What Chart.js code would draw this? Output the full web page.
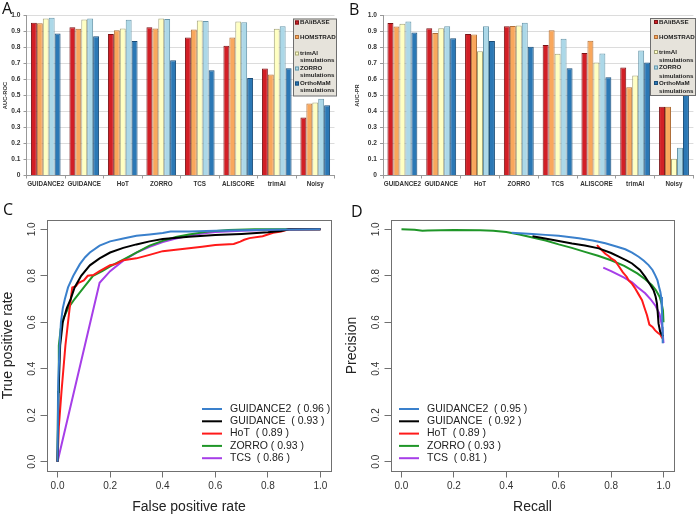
<!DOCTYPE html>
<html>
<head>
<meta charset="utf-8">
<script src="https://cdn.jsdelivr.net/npm/chart.js@4.4.1/dist/chart.umd.min.js"></script>
<style>
  html, body { margin: 0; padding: 0; background: #fff; }
  #fig { position: relative; width: 696px; height: 516px; overflow: hidden; background: #fff; }
  canvas { position: absolute; }
  .tag { position: absolute; font: 16px 'Open Sans', 'Liberation Sans', sans-serif; color: #111; line-height: 16px; }
</style>
</head>
<body>
<div id="fig">
  <canvas id="chartA" width="348" height="190" style="left:0;top:0"></canvas>
  <canvas id="chartB" width="348" height="190" style="left:348px;top:0"></canvas>
  <canvas id="chartC" width="348" height="321" style="left:0;top:195px"></canvas>
  <canvas id="chartD" width="352" height="321" style="left:344px;top:195px"></canvas>
  <div class="tag" style="left:2px;top:0px">A</div>
  <div class="tag" style="left:349px;top:1px">B</div>
  <div class="tag" style="left:3px;top:201px">C</div>
  <div class="tag" style="left:351px;top:203px">D</div>
</div>
<script>
// ---- bar panels (A: AUC-ROC, B: AUC-PR) ----
const methods = ['GUIDANCE2', 'GUIDANCE', 'HoT', 'ZORRO', 'TCS', 'ALISCORE', 'trimAl', 'Noisy'];
const benchNames = ['BAliBASE', 'HOMSTRAD', 'trimAl\nsimulations', 'ZORRO\nsimulations', 'OrthoMaM\nsimulations'];

const rocBalibase = [0.955, 0.926, 0.884, 0.926, 0.863, 0.811, 0.668, 0.362];
const rocHomstrad = [0.951, 0.917, 0.908, 0.918, 0.913, 0.863, 0.631, 0.450];
const rocTrimalSim = [0.981, 0.975, 0.918, 0.981, 0.968, 0.963, 0.917, 0.456];
const rocZorroSim = [0.986, 0.981, 0.974, 0.978, 0.965, 0.958, 0.933, 0.479];
const rocOrthomamSim = [0.888, 0.870, 0.840, 0.721, 0.658, 0.610, 0.670, 0.439];

const prBalibase = [0.953, 0.921, 0.885, 0.933, 0.816, 0.766, 0.675, 0.429];
const prHomstrad = [0.932, 0.890, 0.881, 0.934, 0.908, 0.842, 0.551, 0.429];
const prTrimalSim = [0.948, 0.921, 0.776, 0.938, 0.761, 0.706, 0.625, 0.105];
const prZorroSim = [0.962, 0.933, 0.933, 0.955, 0.854, 0.763, 0.781, 0.173];
const prOrthomamSim = [0.894, 0.858, 0.841, 0.805, 0.671, 0.614, 0.707, 0.520];

// ---- curve panels (C: ROC, D: precision-recall), points as [x, y] ----
const curveNames = ['GUIDANCE2  ( 0.96 )', 'GUIDANCE  ( 0.93 )', 'HoT  ( 0.89 )', 'ZORRO ( 0.93 )', 'TCS  ( 0.86 )'];
const prCurveNames = ['GUIDANCE2  ( 0.95 )', 'GUIDANCE  ( 0.92 )', 'HoT  ( 0.89 )', 'ZORRO ( 0.93 )', 'TCS  ( 0.81 )'];

const rocGuidance2 = [[0,0],[0.003,0.35],[0.008,0.5],[0.013,0.6],[0.02,0.66],[0.028,0.7],[0.04,0.75],[0.06,0.8],[0.085,0.85],[0.105,0.88],[0.123,0.9],[0.16,0.93],[0.2,0.948],[0.25,0.96],[0.3,0.972],[0.35,0.978],[0.4,0.984],[0.43,0.99],[0.5,0.991],[0.6,0.994],[0.7,0.996],[0.8,0.998],[0.9,0.999],[1,1]];
const rocGuidance = [[0,0],[0.004,0.3],[0.01,0.5],[0.02,0.6],[0.035,0.66],[0.05,0.7],[0.065,0.75],[0.09,0.8],[0.123,0.845],[0.16,0.875],[0.2,0.9],[0.25,0.92],[0.3,0.935],[0.35,0.948],[0.4,0.958],[0.5,0.968],[0.6,0.975],[0.7,0.98],[0.8,0.987],[0.85,0.993],[0.88,1],[1,1]];
const rocHot = [[0,0],[0.005,0.15],[0.015,0.3],[0.03,0.5],[0.045,0.65],[0.056,0.75],[0.07,0.755],[0.08,0.77],[0.1,0.78],[0.115,0.8],[0.136,0.803],[0.16,0.82],[0.2,0.845],[0.22,0.85],[0.25,0.867],[0.3,0.875],[0.35,0.89],[0.4,0.906],[0.45,0.912],[0.5,0.918],[0.55,0.925],[0.6,0.932],[0.67,0.937],[0.695,0.947],[0.71,0.955],[0.73,0.962],[0.78,0.97],[0.82,0.985],[0.85,0.99],[0.88,1],[1,1]];
const rocZorro = [[0,0],[0.002,0.3],[0.005,0.5],[0.012,0.57],[0.02,0.61],[0.04,0.66],[0.065,0.7],[0.1,0.75],[0.135,0.8],[0.17,0.82],[0.2,0.84],[0.25,0.87],[0.3,0.9],[0.35,0.93],[0.4,0.95],[0.45,0.967],[0.5,0.978],[0.57,0.99],[0.65,0.997],[0.75,1],[1,1]];
const rocTcs = [[0,0],[0.16,0.77],[0.2,0.82],[0.25,0.865],[0.3,0.9],[0.35,0.925],[0.4,0.945],[0.45,0.96],[0.5,0.972],[0.55,0.982],[0.6,0.988],[0.7,0.994],[0.8,0.997],[1,1]];

const prGuidance2 = [[0.42,0.985],[0.5,0.98],[0.55,0.976],[0.6,0.972],[0.677,0.961],[0.73,0.952],[0.778,0.94],[0.82,0.926],[0.854,0.914],[0.88,0.9],[0.905,0.882],[0.925,0.865],[0.943,0.846],[0.958,0.825],[0.968,0.803],[0.977,0.78],[0.983,0.752],[0.988,0.73],[0.991,0.709],[0.994,0.65],[0.996,0.58],[0.997,0.51]];
const prGuidance = [[0.5,0.97],[0.548,0.96],[0.6,0.95],[0.651,0.939],[0.7,0.93],[0.753,0.918],[0.8,0.898],[0.829,0.882],[0.86,0.865],[0.88,0.853],[0.91,0.825],[0.93,0.795],[0.95,0.76],[0.962,0.738],[0.97,0.71],[0.975,0.68],[0.978,0.64],[0.981,0.594],[0.987,0.56],[0.994,0.545],[1,0.54]];
const prHot = [[0.746,0.932],[0.76,0.915],[0.778,0.895],[0.79,0.885],[0.8,0.875],[0.815,0.865],[0.83,0.84],[0.845,0.815],[0.86,0.795],[0.867,0.78],[0.88,0.765],[0.892,0.745],[0.905,0.72],[0.918,0.695],[0.928,0.66],[0.937,0.63],[0.946,0.59],[0.958,0.58],[0.968,0.565],[0.978,0.555],[0.987,0.548],[0.996,0.53]];
const prZorro = [[0,1],[0.05,0.998],[0.08,0.994],[0.1,0.995],[0.2,0.997],[0.3,0.996],[0.35,0.994],[0.4,0.988],[0.45,0.978],[0.5,0.965],[0.55,0.952],[0.6,0.935],[0.65,0.92],[0.7,0.903],[0.75,0.886],[0.8,0.867],[0.85,0.843],[0.9,0.81],[0.93,0.785],[0.955,0.76],[0.97,0.74],[0.985,0.71],[0.993,0.68],[0.998,0.65],[1,0.6]];
const prTcs = [[0.77,0.835],[0.8,0.82],[0.85,0.792],[0.88,0.772],[0.9,0.752],[0.93,0.725],[0.95,0.7],[0.97,0.67],[0.985,0.635],[0.995,0.58],[1,0.51]];

const unitTicks = [0, 0.2, 0.4, 0.6, 0.8, 1.0];

const benchFill = ['#d21f26', '#f9a75c', '#ffffc2', '#acd8e8', '#2b78b5'];
const benchEdge = ['#7a1316', '#b0703a', '#a3a37a', '#6897aa', '#1a4d78'];
const curveColors = ['#3a80cc', '#000000', '#ff1a1a', '#1f9628', '#a63ee8'];

const barFont = "'Liberation Sans', Arial, sans-serif";
const sans = "'Liberation Sans', Arial, sans-serif";

// legend box of the bar panels
const benchLegend = {
  id: 'benchLegend',
  afterDatasetsDraw(chart, args, o) {
    const ctx = chart.ctx;
    ctx.save();
    ctx.fillStyle = '#e6e3db';
    ctx.fillRect(o.x, o.y, o.w, o.h);
    ctx.strokeStyle = '#6e6e6e';
    ctx.lineWidth = 1;
    ctx.strokeRect(o.x + 0.5, o.y + 0.5, o.w, o.h);
    ctx.font = 'bold 6.2px ' + barFont;
    ctx.textBaseline = 'middle';
    chart.data.datasets.forEach((ds, i) => {
      const y = o.y + o.rows[i];
      ctx.fillStyle = ds.backgroundColor;
      ctx.fillRect(o.x + o.markX, y - 2, 4, 4);
      ctx.strokeStyle = ds.borderColor;
      ctx.strokeRect(o.x + o.markX + 0.5, y - 1.5, 3, 3);
      ctx.fillStyle = '#222';
      ds.label.split('\n').forEach((t, j) => ctx.fillText(t, o.x + o.textX, y + j * o.lineGap));
    });
    ctx.restore();
  }
};

// R style frame and legend for the curve panels
const frameBox = {
  id: 'frameBox',
  afterDraw(chart) {
    const {ctx, chartArea: a} = chart;
    ctx.save();
    ctx.strokeStyle = '#707070';
    ctx.lineWidth = 1;
    ctx.strokeRect(Math.round(a.left) + 0.5, Math.round(a.top) + 0.5, Math.round(a.right - a.left), Math.round(a.bottom - a.top));
    ctx.restore();
  }
};
const curveLegend = {
  id: 'curveLegend',
  afterDatasetsDraw(chart, args, o) {
    const {ctx, chartArea: a} = chart;
    ctx.save();
    ctx.font = '10.5px ' + sans;
    ctx.textBaseline = 'middle';
    chart.data.datasets.forEach((ds, i) => {
      const y = a.bottom + o.top + i * o.rowHeight;
      const x0 = a.left + o.left;
      ctx.strokeStyle = ds.borderColor;
      ctx.lineWidth = 2;
      ctx.beginPath();
      ctx.moveTo(x0, y);
      ctx.lineTo(x0 + 20, y);
      ctx.stroke();
      ctx.fillStyle = '#222';
      ctx.fillText(ds.label, x0 + 28, y);
    });
    ctx.restore();
  }
};

function barChart(id, yTitle, series, axisWidth, padRight, titlePad, legendOpts) {
  return new Chart(document.getElementById(id), {
    type: 'bar',
    data: {
      labels: methods,
      datasets: series.map((vals, i) => ({
        label: benchNames[i],
        data: vals,
        backgroundColor: benchFill[i],
        borderColor: benchEdge[i],
        borderWidth: 1,
        borderSkipped: 'bottom',
        categoryPercentage: 0.77,
        barPercentage: 1.0
      }))
    },
    options: {
      responsive: false,
      animation: false,
      devicePixelRatio: 1,
      layout: { padding: { left: 0, top: 15.5, right: padRight, bottom: 0 } },
      plugins: { legend: { display: false }, tooltip: { enabled: false }, benchLegend: legendOpts },
      scales: {
        x: {
          ticks: { font: { family: barFont, size: 6.3, weight: 'bold' }, color: '#333', padding: 1.5, maxRotation: 0, autoSkip: false },
          grid: { drawOnChartArea: false, offset: true, tickLength: 3, color: '#999' },
          border: { color: '#999' },
          afterFit: s => { s.height = 14.5; }
        },
        y: {
          min: 0, max: 1,
          ticks: { stepSize: 0.1, font: { family: barFont, size: 6.6, weight: 'bold' }, color: '#333', padding: 3 },
          grid: { color: '#dcdcdc', tickLength: 3, tickColor: '#999' },
          border: { color: '#999' },
          title: { display: true, text: yTitle, font: { family: barFont, size: 5.8, weight: 'bold' }, color: '#333', padding: { top: titlePad, bottom: 0 } },
          afterFit: s => { s.width = axisWidth; }
        }
      }
    },
    plugins: [benchLegend]
  });
}

barChart('chartA', 'AUC-ROC', [rocBalibase, rocHomstrad, rocTrimalSim, rocZorroSim, rocOrthomamSim], 26.5, 13.5, 1.5,
  { x: 293, y: 18.5, w: 43, h: 77, markX: 2, textX: 7, rows: [4, 18.5, 35, 50, 65], lineGap: 7 });
barChart('chartB', 'AUC-PR', [prBalibase, prHomstrad, prTrimalSim, prZorroSim, prOrthomamSim], 35, 2.6, 6,
  { x: 302, y: 18, w: 45, h: 77, markX: 4, textX: 9, rows: [4, 19, 34, 49.5, 65], lineGap: 8.5 });

function unitAxis(title, fixSize) {
  return {
    type: 'linear', min: -0.04, max: 1.04,
    afterBuildTicks: s => { s.ticks = unitTicks.map(v => ({ value: v })); },
    ticks: { callback: v => v.toFixed(1), font: { family: sans, size: 10 }, color: '#333', autoSkip: false },
    grid: { drawOnChartArea: false, tickLength: 6.5, color: '#707070' },
    border: { display: false },
    title: { display: true, text: title, font: { family: sans, size: 14 }, color: '#222' },
    afterFit: fixSize
  };
}

function curveChart(id, names, curves, padRight, legendOpts, xTitle, yTitle) {
  const x = unitAxis(xTitle, s => { s.height = 45; });
  x.ticks.padding = 3;
  x.title.padding = { top: 0, bottom: 0 };
  const y = unitAxis(yTitle, s => { s.width = 47; });
  Object.assign(y.ticks, { minRotation: 90, maxRotation: 90, crossAlign: 'center', padding: 1 });
  y.title.padding = { top: 0, bottom: 0 };
  return new Chart(document.getElementById(id), {
    type: 'line',
    data: {
      datasets: curves.map((pts, i) => ({
        label: names[i],
        data: pts.map(([px, py]) => ({ x: px, y: py })),
        borderColor: curveColors[i],
        borderWidth: 2,
        pointRadius: 0,
        tension: 0,
        fill: false
      }))
    },
    options: {
      responsive: false,
      animation: false,
      devicePixelRatio: 1,
      layout: { padding: { left: 0, top: 25, right: padRight, bottom: 0 } },
      plugins: { legend: { display: false }, tooltip: { enabled: false }, curveLegend: legendOpts },
      scales: { x: x, y: y }
    },
    plugins: [frameBox, curveLegend]
  });
}

curveChart('chartC', curveNames, [rocGuidance2, rocGuidance, rocHot, rocZorro, rocTcs], 17,
  { left: 155, top: -62, rowHeight: 12.3 }, 'False positive rate', 'True positive rate');
curveChart('chartD', prCurveNames, [prGuidance2, prGuidance, prHot, prZorro, prTcs], 22,
  { left: 8, top: -62, rowHeight: 12.3 }, 'Recall', 'Precision');
</script>
</body>
</html>
